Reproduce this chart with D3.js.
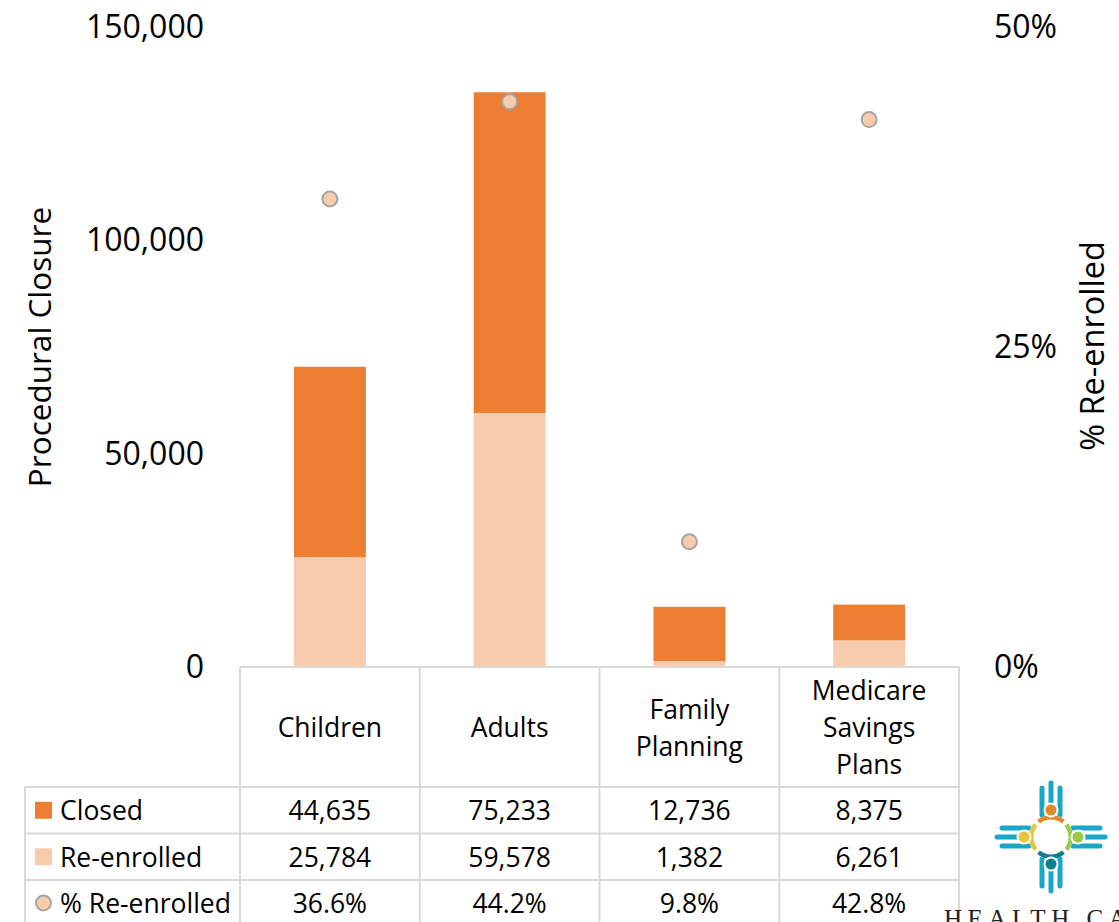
<!DOCTYPE html>
<html><head><meta charset="utf-8">
<script src="https://cdn.jsdelivr.net/npm/d3@7"></script>
<style>
html,body{margin:0;padding:0;background:#fff;}
svg{display:block;font-family:"Open Sans",sans-serif;}
</style></head>
<body>
<svg id="chart" width="1119" height="922"></svg>
<script>
// ---- data ----
const categories = [["Children"], ["Adults"], ["Family", "Planning"], ["Medicare", "Savings", "Plans"]];
const closed = [44635, 75233, 12736, 8375];
const reenrolled = [25784, 59578, 1382, 6261];
const pctReenrolled = [36.6, 44.2, 9.8, 42.8];
const leftTicks = [0, 50000, 100000, 150000];
const rightTicks = [0, 25, 50];
const seriesNames = ["Closed", "Re-enrolled", "% Re-enrolled"];

const colClosed = "#ed7d31", colRe = "#f8cbad", grid = "#d9d9d9";
const svg = d3.select("#chart");

const x0 = 240, x1 = 959, yTop = 27.5, yZero = 667;
const keys = categories.map((c, i) => i);
const x = d3.scaleBand().domain(keys).range([x0, x1]).paddingInner(0.6).paddingOuter(0.3);
const xc = d3.scaleBand().domain(keys).range([x0, x1]);
const y = d3.scaleLinear().domain([0, 150000]).range([yZero, yTop]);
const y2 = d3.scaleLinear().domain([0, 50]).range([yZero, yTop]);

// stacked bars: re-enrolled at bottom, closed on top
const rows = keys.map(i => ({i, re: reenrolled[i], closed: closed[i]}));
const stack = d3.stack().keys(["re", "closed"])(rows);
const colors = {re: colRe, closed: colClosed};
stack.forEach(layer => {
  svg.append("g").selectAll("rect").data(layer).join("rect")
    .attr("x", d => x(d.data.i))
    .attr("width", x.bandwidth())
    .attr("y", d => y(d[1]))
    .attr("height", d => y(d[0]) - y(d[1]))
    .attr("fill", colors[layer.key]);
});

// scatter points
svg.append("g").selectAll("circle").data(keys).join("circle")
  .attr("cx", i => x(i) + x.bandwidth() / 2)
  .attr("cy", i => y2(pctReenrolled[i]))
  .attr("r", 7.5)
  .attr("fill", colRe).attr("stroke", "#a5a5a5").attr("stroke-width", 2);

// left axis
const gl = svg.append("g").attr("transform", "translate(204,0)")
  .call(d3.axisLeft(y).tickValues(leftTicks).tickFormat(d3.format(",")).tickSize(0).tickPadding(0));
gl.select(".domain").remove();
gl.selectAll("text").attr("font-size", 32).attr("fill", "#000").attr("font-family", "Open Sans");

// right axis
const gr = svg.append("g").attr("transform", "translate(994,0)")
  .call(d3.axisRight(y2).tickValues(rightTicks).tickFormat(d => d + "%").tickSize(0).tickPadding(0));
gr.select(".domain").remove();
gr.selectAll("text").attr("font-size", 32).attr("fill", "#000").attr("font-family", "Open Sans");

// axis titles
svg.append("text").attr("transform", "translate(38,347) rotate(-90)")
  .attr("text-anchor", "middle").attr("dominant-baseline", "central")
  .attr("font-size", 31.5).attr("fill", "#000").text("Procedural Closure");
svg.append("text").attr("transform", "translate(1091,346) rotate(-90)")
  .attr("text-anchor", "middle").attr("dominant-baseline", "central")
  .attr("font-size", 32.5).attr("fill", "#000").text("% Re-enrolled");

// ---- data table ----
const rowY = [667, 787, 833.5, 880, 926];
const tg = svg.append("g").attr("stroke", grid).attr("stroke-width", 2).attr("fill", "none");
tg.append("line").attr("x1", x0).attr("x2", x1).attr("y1", rowY[0]).attr("y2", rowY[0]);
[1, 2, 3].forEach(r => tg.append("line").attr("x1", 25).attr("x2", x1).attr("y1", rowY[r]).attr("y2", rowY[r]));
const colEdges = keys.map(i => xc(i)).concat([x1]);
colEdges.forEach(cx => tg.append("line").attr("x1", cx).attr("x2", cx).attr("y1", rowY[0]).attr("y2", 922));
tg.append("line").attr("x1", 25).attr("x2", 25).attr("y1", rowY[1]).attr("y2", 922);

const fs = 26.5, lh = 37;
keys.forEach(i => {
  const lines = categories[i];
  const cy = (rowY[0] + rowY[1]) / 2;
  const t = svg.append("text").attr("text-anchor", "middle").attr("font-size", fs).attr("fill", "#000");
  lines.forEach((ln, k) => {
    t.append("tspan").attr("x", xc(i) + xc.bandwidth() / 2)
      .attr("y", cy + (k - (lines.length - 1) / 2) * lh)
      .attr("dominant-baseline", "central").text(ln);
  });
});
const tableVals = [closed.map(d3.format(",")), reenrolled.map(d3.format(",")), pctReenrolled.map(v => v.toFixed(1) + "%")];
tableVals.forEach((vals, r) => {
  const cy = (rowY[r + 1] + rowY[r + 2]) / 2;
  vals.forEach((v, i) => {
    svg.append("text").attr("x", xc(i) + xc.bandwidth() / 2).attr("y", cy)
      .attr("text-anchor", "middle").attr("dominant-baseline", "central")
      .attr("font-size", fs).attr("fill", "#000").text(v);
  });
  svg.append("text").attr("x", 60).attr("y", cy).attr("dominant-baseline", "central")
    .attr("font-size", fs).attr("fill", "#000").text(seriesNames[r]);
  if (r < 2) {
    svg.append("rect").attr("x", 35).attr("y", cy - 8.5).attr("width", 17).attr("height", 17)
      .attr("fill", r === 0 ? colClosed : colRe);
  } else {
    svg.append("circle").attr("cx", 43.5).attr("cy", cy).attr("r", 7.5)
      .attr("fill", colRe).attr("stroke", "#a5a5a5").attr("stroke-width", 2);
  }
});

// ---- logo ----
const lg = svg.append("g").attr("transform", "translate(1051,837)");
const blue = "#19a7c6";
const ray = (a, b, c, d) => lg.append("line").attr("x1", a).attr("y1", b).attr("x2", c).attr("y2", d)
  .attr("stroke", blue).attr("stroke-width", 5).attr("stroke-linecap", "round");
[-9, 0, 9].forEach((o, k) => {
  const far = k === 1 ? 54 : 49;
  ray(o, -far, o, -22); ray(o, 22, o, far);
  ray(-far, o, -22, o); ray(22, o, far, o);
});
lg.append("circle").attr("r", 22).attr("fill", "#fff");
const arc = d3.arc().innerRadius(17.5).outerRadius(22);
const arcs = [["#e08a2c", 0], ["#9bc94a", Math.PI / 2], ["#0e7d8c", Math.PI], ["#e9c33a", -Math.PI / 2]];
arcs.forEach(a => lg.append("path").attr("d", arc({startAngle: a[1] - 0.68, endAngle: a[1] + 0.68})).attr("fill", a[0]));
const heads = [["#e08a2c", 0, -27], ["#9bc94a", 27, 0], ["#0e7d8c", 0, 27], ["#e9c33a", -27, 0]];
heads.forEach(h => lg.append("circle").attr("cx", h[1]).attr("cy", h[2]).attr("r", 6.5)
  .attr("fill", h[0]).attr("stroke", "#fff").attr("stroke-width", 2));
svg.append("text").attr("x", 944).attr("y", 927).attr("font-family", "Liberation Serif")
  .attr("font-size", 25).attr("letter-spacing", 5.5).attr("fill", "#222").text("HEALTH CARE AUTHORITY");
</script>
</body></html>
